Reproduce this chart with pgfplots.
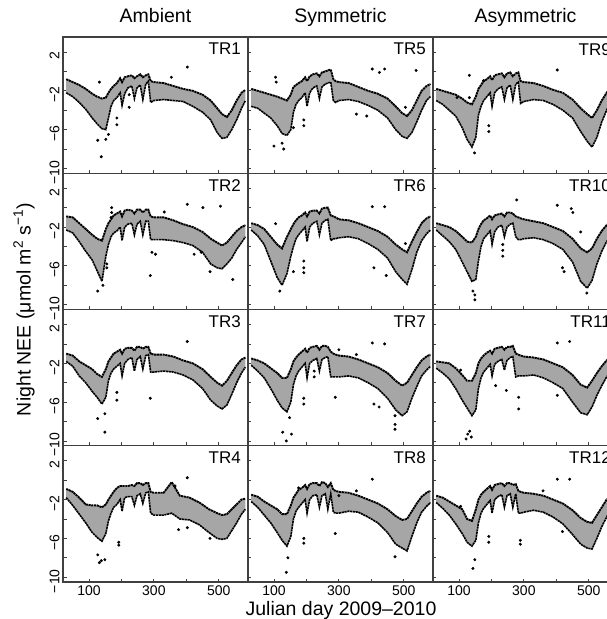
\documentclass[border=0pt]{standalone}
\usepackage{fontspec}
\setmainfont{Liberation Sans}
\usepackage{pgfplots}
\usepackage{pgfplotstable}
\pgfplotsset{compat=1.18}
\usepgfplotslibrary{groupplots,fillbetween}
\usetikzlibrary{calc}

% band of night NEE per chamber: day, upper edge, lower edge
\pgfplotstableread{
d hi lo
30 -0.8 -2.2
50 -1.1 -2.6
70 -1.4 -3.2
90 -1.8 -3.9
110 -2.3 -4.8
125 -2.6 -5.4
140 -2.8 -5.9
152 -2.7 -6.0
160 -2.2 -4.8
168 -1.8 -3.6
176 -1.5 -3.0
186 -1.2 -2.7
196 -0.7 -2.2
202 -1.1 -3.5
210 -0.6 -2.3
220 -0.5 -1.7
232 -0.4 -1.5
240 -0.7 -2.8
248 -0.5 -1.7
258 -0.3 -1.4
266 -0.6 -2.9
275 -0.4 -1.3
283 -0.3 -1.0
290 -1.0 -3.2
300 -1.1 -3.0
330 -1.2 -2.9
360 -1.5 -3.0
390 -1.8 -3.1
420 -2.0 -3.6
450 -2.4 -4.2
475 -3.0 -5.0
495 -3.8 -6.3
510 -4.4 -6.9
525 -4.7 -6.8
540 -4.0 -6.0
555 -3.0 -5.0
570 -2.2 -3.8
582 -1.9 -3.0
}\trA
\pgfplotstableread{
d hi lo
30 -0.9 -2.3
50 -1.0 -2.6
70 -1.6 -3.5
90 -2.2 -4.5
110 -2.8 -5.4
125 -3.2 -6.5
140 -3.4 -7.6
152 -2.2 -5.0
160 -1.6 -3.8
168 -1.2 -3.0
176 -0.8 -2.6
186 -0.6 -2.4
196 -0.4 -2.0
202 -0.9 -3.4
210 -0.3 -2.0
220 -0.2 -1.7
232 -0.3 -1.6
240 -0.6 -2.8
248 -0.2 -1.7
258 -0.2 -1.4
266 -0.5 -2.8
275 -0.2 -1.4
283 -0.2 -1.4
290 -0.9 -3.3
300 -1.0 -3.3
330 -1.0 -3.3
360 -1.3 -3.4
390 -1.7 -3.6
420 -2.0 -3.9
450 -2.5 -4.6
475 -3.2 -5.8
495 -3.6 -6.2
510 -3.9 -6.3
525 -3.6 -5.8
540 -3.0 -5.2
555 -2.4 -4.3
570 -2.0 -3.6
582 -1.8 -3.0
}\trB
\pgfplotstableread{
d hi lo
30 -1.0 -1.8
50 -1.2 -2.3
70 -1.8 -3.3
90 -2.2 -4.0
110 -2.6 -4.9
125 -3.1 -5.5
140 -3.4 -6.2
152 -2.6 -5.5
160 -1.8 -3.8
168 -1.4 -3.0
176 -1.0 -2.6
186 -0.8 -2.3
196 -0.6 -2.0
202 -1.0 -3.3
210 -0.5 -2.0
220 -0.4 -1.6
232 -0.4 -1.4
240 -0.7 -2.8
248 -0.3 -1.6
258 -0.3 -1.3
266 -0.5 -2.6
275 -0.3 -1.2
283 -0.3 -1.1
290 -1.0 -2.9
300 -1.1 -2.9
330 -1.1 -2.8
360 -1.3 -2.9
390 -1.7 -3.2
420 -2.0 -3.7
450 -2.6 -4.6
475 -3.4 -5.8
495 -4.0 -6.4
510 -4.3 -6.7
525 -3.8 -6.3
540 -3.0 -5.2
555 -2.2 -4.0
570 -1.6 -3.0
582 -1.4 -2.4
}\trC
\pgfplotstableread{
d hi lo
30 -0.9 -1.8
50 -1.2 -2.6
70 -1.8 -3.5
90 -2.5 -4.4
110 -2.6 -5.4
125 -2.6 -5.9
140 -2.8 -6.3
152 -2.5 -5.5
160 -2.0 -4.2
168 -1.6 -3.4
176 -1.2 -2.8
186 -0.8 -2.5
196 -0.6 -2.0
202 -0.6 -3.2
210 -0.6 -1.8
220 -0.6 -1.7
232 -0.5 -1.7
240 -0.6 -2.6
248 -0.3 -1.6
258 -0.3 -1.4
266 -0.5 -2.4
275 -0.3 -1.3
283 -0.3 -1.2
290 -1.2 -3.4
300 -1.3 -3.6
330 -1.3 -3.6
355 -0.2 -3.4
380 -1.6 -4.0
410 -1.8 -4.1
440 -2.3 -4.6
470 -3.0 -5.4
495 -3.4 -6.0
510 -3.6 -6.1
525 -3.5 -6.0
540 -3.0 -5.2
555 -2.5 -4.4
570 -2.0 -3.5
582 -1.9 -3.0
}\trD
\pgfplotstableread{
d hi lo
30 -1.8 -3.6
50 -2.0 -3.8
70 -2.2 -4.3
90 -2.4 -4.8
110 -2.6 -5.6
125 -2.8 -6.4
140 -3.0 -6.6
152 -2.4 -6.0
160 -1.6 -4.2
168 -1.4 -3.4
176 -1.2 -3.0
186 -1.0 -2.7
196 -0.6 -2.2
202 -1.0 -3.6
210 -0.5 -2.2
220 -0.3 -1.7
232 -0.2 -1.5
240 -0.5 -2.8
248 -0.1 -1.6
258 0.0 -1.3
266 0.1 -1.2
275 0.2 -1.1
283 -0.8 -3.0
290 -1.0 -3.2
300 -1.1 -3.0
330 -1.2 -2.9
360 -1.6 -3.1
390 -2.0 -3.5
420 -2.3 -4.0
450 -2.8 -4.8
475 -3.6 -6.0
495 -4.3 -6.7
510 -4.6 -6.9
525 -4.0 -6.3
540 -3.0 -5.2
555 -2.0 -4.0
570 -1.5 -3.0
582 -1.3 -2.6
}\trE
\pgfplotstableread{
d hi lo
30 -1.6 -2.3
50 -1.8 -2.9
70 -2.2 -3.8
90 -3.0 -5.5
110 -3.8 -7.2
125 -4.2 -8.0
140 -3.0 -6.8
152 -2.2 -5.0
160 -1.7 -4.0
168 -1.3 -3.2
176 -1.0 -2.8
186 -0.8 -2.4
196 -0.5 -2.0
202 -0.9 -3.5
210 -0.4 -2.0
220 -0.3 -1.6
232 -0.3 -1.4
240 -0.6 -2.8
248 -0.1 -1.6
258 0.0 -1.3
266 0.0 -1.2
275 -0.8 -3.4
283 -0.9 -3.2
290 -1.0 -3.2
300 -1.2 -3.1
330 -1.3 -3.0
360 -1.6 -3.2
390 -2.0 -3.7
420 -2.4 -4.3
450 -3.0 -5.2
475 -3.8 -6.6
495 -4.3 -7.4
510 -4.6 -7.9
525 -3.5 -6.4
540 -2.5 -4.6
555 -1.6 -3.4
570 -1.1 -2.7
582 -0.9 -2.3
}\trF
\pgfplotstableread{
d hi lo
30 -1.5 -2.2
50 -1.7 -2.8
70 -2.0 -3.5
90 -2.5 -4.6
110 -3.0 -5.8
125 -3.5 -6.6
140 -3.5 -7.0
152 -2.6 -6.0
160 -1.8 -4.2
168 -1.4 -3.3
176 -1.1 -2.8
186 -0.8 -2.4
196 -0.5 -2.0
202 -0.9 -3.5
210 -0.4 -2.0
220 -0.3 -1.7
232 -0.2 -1.5
240 -0.6 -2.8
248 -0.2 -1.6
258 -0.2 -1.4
266 -0.3 -1.3
275 -0.8 -3.4
283 -1.0 -3.4
290 -1.1 -3.4
300 -1.2 -3.4
330 -1.3 -3.3
360 -1.6 -3.5
390 -2.0 -4.0
420 -2.4 -4.6
450 -3.0 -5.6
475 -3.8 -6.8
495 -4.3 -7.4
510 -4.0 -7.0
525 -3.2 -5.6
540 -2.4 -4.4
555 -1.7 -3.3
570 -1.3 -2.7
582 -1.1 -2.3
}\trG
\pgfplotstableread{
d hi lo
30 -1.5 -2.2
50 -1.7 -2.8
70 -2.2 -3.6
90 -2.6 -4.4
110 -3.0 -5.4
125 -3.5 -6.2
140 -3.5 -6.8
152 -2.6 -5.8
160 -1.8 -4.0
168 -1.4 -3.2
176 -1.0 -2.8
186 -0.8 -2.4
196 -0.5 -2.0
202 -0.9 -3.4
210 -0.4 -2.0
220 -0.3 -1.6
232 -0.3 -1.5
240 -0.6 -2.8
248 -0.2 -1.6
258 -0.3 -1.4
266 -0.7 -3.0
275 -0.3 -1.4
283 -1.0 -3.3
290 -1.1 -3.4
300 -1.2 -3.4
330 -1.3 -3.2
360 -1.6 -3.3
390 -2.0 -3.8
420 -2.4 -4.4
450 -3.0 -5.4
475 -3.7 -6.6
495 -4.1 -7.0
510 -4.0 -7.3
525 -3.2 -5.8
540 -2.4 -4.4
555 -1.7 -3.3
570 -1.3 -2.7
582 -1.1 -2.3
}\trH
\pgfplotstableread{
d hi lo
30 -1.8 -3.0
50 -2.0 -3.4
70 -2.2 -4.0
90 -2.4 -4.6
110 -2.8 -5.8
125 -3.2 -7.0
140 -3.4 -7.8
152 -2.6 -6.8
160 -1.8 -4.5
168 -1.4 -3.6
176 -1.0 -3.0
186 -0.8 -2.6
196 -0.5 -2.2
202 -0.9 -3.6
210 -0.4 -2.2
220 -0.3 -1.8
232 -0.2 -1.6
240 -0.6 -2.9
248 -0.2 -1.7
258 -0.1 -1.4
266 -0.5 -2.9
275 -0.2 -1.3
283 -0.1 -1.1
290 -1.0 -3.3
300 -1.1 -3.1
330 -1.2 -2.9
360 -1.5 -3.0
390 -1.9 -3.4
420 -2.2 -4.0
450 -2.9 -4.8
475 -3.8 -6.2
495 -4.4 -7.2
510 -4.8 -7.8
525 -4.0 -6.8
540 -3.0 -5.2
555 -2.2 -4.0
570 -1.6 -3.0
582 -1.3 -2.6
}\trI
\pgfplotstableread{
d hi lo
30 -1.6 -2.3
50 -1.8 -2.9
70 -2.0 -3.5
90 -2.4 -4.3
110 -3.0 -5.6
125 -3.5 -6.6
140 -3.6 -7.6
152 -3.0 -7.4
160 -2.2 -5.5
168 -1.7 -4.0
176 -1.3 -3.2
186 -1.1 -2.8
196 -0.8 -2.4
202 -1.2 -3.8
210 -0.8 -2.5
220 -0.7 -2.0
232 -0.6 -1.8
240 -0.9 -3.0
248 -0.5 -2.0
258 -0.5 -1.7
266 -0.6 -1.6
275 -0.9 -3.0
283 -1.0 -3.3
290 -1.1 -3.3
300 -1.2 -3.2
330 -1.4 -3.1
360 -1.6 -3.3
390 -2.0 -3.7
420 -2.4 -4.3
450 -3.2 -5.6
475 -4.2 -7.6
495 -4.6 -8.3
510 -4.2 -7.5
525 -3.2 -5.8
540 -2.4 -4.5
555 -1.8 -3.5
570 -1.4 -2.9
582 -1.2 -2.5
}\trJ
\pgfplotstableread{
d hi lo
30 -1.8 -2.5
50 -1.9 -3.0
70 -2.0 -3.6
90 -2.5 -4.6
110 -3.2 -5.8
125 -3.8 -6.6
140 -3.8 -7.4
152 -3.0 -6.8
160 -2.0 -4.6
168 -1.5 -3.5
176 -1.2 -2.9
186 -0.9 -2.5
196 -0.7 -2.1
202 -1.0 -3.3
210 -0.5 -2.1
220 -0.4 -1.8
232 -0.3 -1.6
240 -0.6 -2.7
248 -0.3 -1.7
258 -0.3 -1.4
266 -0.2 -1.3
275 -1.0 -3.4
283 -1.1 -3.3
290 -1.2 -3.3
300 -1.3 -3.3
330 -1.4 -3.2
360 -1.6 -3.5
390 -2.0 -4.0
420 -2.4 -4.6
450 -3.2 -6.0
475 -4.2 -7.1
495 -4.5 -7.3
510 -3.8 -6.5
525 -3.0 -5.3
540 -2.3 -4.3
555 -1.7 -3.4
570 -1.3 -2.8
582 -1.1 -2.4
}\trK
\pgfplotstableread{
d hi lo
30 -1.6 -2.3
50 -1.8 -2.9
70 -2.2 -3.6
90 -2.6 -4.5
110 -3.0 -5.5
125 -4.0 -6.4
140 -4.2 -6.8
152 -3.0 -6.2
160 -2.0 -4.4
168 -1.5 -3.4
176 -1.2 -2.9
186 -0.9 -2.5
196 -0.6 -2.1
202 -1.0 -3.4
210 -0.5 -2.0
220 -0.4 -1.7
232 -0.3 -1.5
240 -0.6 -2.8
248 -0.3 -1.6
258 -0.3 -1.4
266 -0.5 -2.8
275 -0.4 -1.4
283 -1.1 -3.4
290 -1.2 -3.4
300 -1.3 -3.3
330 -1.4 -3.1
360 -1.6 -3.3
390 -2.0 -3.8
420 -2.4 -4.5
450 -3.1 -5.6
475 -3.9 -6.6
495 -4.3 -7.0
510 -4.4 -7.1
525 -3.6 -6.0
540 -2.8 -4.8
555 -2.0 -3.8
570 -1.5 -3.0
582 -1.3 -2.6
}\trL

\newcommand{\band}[1]{%
  \addplot[draw=none, name path=hi] table[x=d, y=hi] {#1};
  \addplot[draw=none, name path=lo] table[x=d, y=lo] {#1};
  \addplot[fill=black!35, draw=none] fill between[of=hi and lo];
  \addplot[black, line width=1.9pt, dash pattern=on 2.2pt off 0.6pt] table[x=d, y=hi] {#1};
  \addplot[black, line width=1.6pt, dash pattern=on 2.2pt off 0.6pt] table[x=d, y=lo] {#1};
}
\newcommand{\trlabel}[1]{%
  \node[anchor=north east, inner sep=0pt, font=\fontsize{17}{17}\selectfont]
    at ($(rel axis cs:1,1)+(-7pt,-6pt)$) {#1};
}
\pgfplotsset{outl/.style={only marks, mark=*, mark size=1.3pt, black}}

\begin{document}
\begin{tikzpicture}
\begin{groupplot}[
  group style={group size=3 by 4, horizontal sep=0pt, vertical sep=0pt,
    xticklabels at=edge bottom, yticklabels at=edge left},
  width=185pt, height=136.25pt, scale only axis,
  xmin=20, xmax=590, ymin=-10.5, ymax=3.55,
  xtick={100,200,300,400,500}, xticklabels={100,,300,,500},
  ytick={-10,-8,-6,-4,-2,0,2}, yticklabels={−10,,−6,,−2,,2},
  xtick pos=left, ytick pos=left, tick align=inside,
  major tick length=3.5pt,
  axis line style={black!75, line width=1.1pt},
  every tick/.style={black!75, line width=0.8pt},
  ticklabel style={font=\fontsize{14}{14}\selectfont},
  yticklabel style={rotate=90, anchor=south, xshift=-4pt},
  title style={font=\fontsize{19.5}{19.5}\selectfont, anchor=base, inner sep=0pt, yshift=9pt},
]
% row 1
\nextgroupplot[title=Ambient]
\coordinate (tl) at (rel axis cs:0,1);
\band{\trA}
\addplot[outl] coordinates {(132,-1.1) (127,-7.1) (152,-7.0) (138,-8.8) (186,-5.5) (186,-4.8) (224,-3.7) (224,-2.4) (354,-0.6) (403,0.45) (160,-6.5)};
\trlabel{TR1}

\nextgroupplot[title=Symmetric]
\band{\trE}
\addplot[outl] coordinates {(403,0.25) (425,-0.1) (441,0.25) (538,0.1) (105,-0.6) (107,-1.1) (100,-7.7) (125,-7.4) (130,-8.0) (192,-5.6) (192,-5.0) (354,-4.4) (386,-4.6) (505,-3.7) (160,-5.8)};
\trlabel{TR5}

\nextgroupplot[title=Asymmetric]
\band{\trI}
\addplot[outl] coordinates {(132,-0.4) (176,-0.95) (94,-2.7) (132,-2.7) (403,0.15) (192,-5.6) (192,-6.2) (148,-8.4)};
\trlabel{TR9}

% row 2
\nextgroupplot
\band{\trB}
\addplot[outl] coordinates {(170,0.0) (170,-0.5) (168,-1.0) (127,-8.6) (143,-8.0) (289,-7.0) (294,-4.6) (305,-4.8) (403,0.35) (451,0.0) (505,0.15) (424,-4.8) (446,-4.6) (473,-6.6) (543,-7.4) (332,-0.45) (155,-5.8) (155,-6.2)};
\trlabel{TR2}

\nextgroupplot
\band{\trF}
\addplot[outl] coordinates {(403,0.1) (441,0.1) (105,-1.65) (192,-6.7) (192,-6.2) (192,-5.5) (408,-6.2) (446,-7.0) (505,-3.7) (118,-8.6) (160,-6.6)};
\trlabel{TR6}

\nextgroupplot
\band{\trJ}
\addplot[outl] coordinates {(149,-9.5) (149,-9.0) (143,-8.6) (278,0.8) (235,-3.8) (235,-4.4) (235,-5.0) (403,0.25) (446,-0.1) (451,-0.5) (475,-2.5) (419,-6.2) (424,-6.6) (494,-8.8)};
\trlabel{TR10}

% row 3
\nextgroupplot
\band{\trC}
\addplot[outl] coordinates {(127,-7.7) (149,-7.2) (149,-9.1) (289,-5.6) (403,0.25) (186,-5.8) (186,-5.0)};
\trlabel{TR3}

\nextgroupplot
\band{\trG}
\addplot[outl] coordinates {(127,-9.1) (138,-10.0) (154,-9.3) (192,-6.2) (192,-5.6) (224,-3.4) (224,-2.8) (300,-0.6) (354,-1.1) (403,0.1) (441,0.0) (289,-5.5) (408,-6.2) (424,-6.5) (473,-7.4) (473,-8.3) (473,-8.8) (148,-7.6)};
\trlabel{TR7}

\nextgroupplot
\band{\trK}
\addplot[outl] coordinates {(127,-9.3) (138,-9.6) (122,-9.8) (133,-9.0) (105,-2.7) (213,-4.3) (246,-4.8) (284,-5.5) (284,-6.7) (403,0.1) (441,0.25) (403,-5.3)};
\trlabel{TR11}

% row 4
\nextgroupplot
\coordinate (bl) at (rel axis cs:0,0);
\band{\trD}
\addplot[outl] coordinates {(127,-7.7) (138,-8.3) (132,-8.5) (149,-8.2) (192,-6.7) (192,-6.4) (376,-5.1) (403,-4.9) (403,0.25) (473,-6.0) (365,-0.6)};
\trlabel{TR4}

\nextgroupplot
\band{\trH}
\addplot[outl] coordinates {(138,-9.5) (143,-8.0) (176,-0.8) (192,-6.5) (192,-6.0) (289,-5.5) (403,0.1) (473,-7.9) (354,-1.1) (300,-1.6)};
\trlabel{TR8}

\nextgroupplot
\band{\trL}
\addplot[outl] coordinates {(149,-8.2) (143,-9.1) (105,-2.7) (192,-5.8) (192,-6.4) (289,-6.2) (289,-6.6) (359,-1.1) (403,0.1) (441,0.1) (419,-5.3)};
\trlabel{TR12}
\end{groupplot}

\node[rotate=90, font=\fontsize{19.5}{19.5}\selectfont]
  at ($($(tl)!0.5!(bl)$)+(-39pt,0)$) {Night NEE (μmol m\textsuperscript{2} s\textsuperscript{−1})};
\node[anchor=base, font=\fontsize{19.5}{19.5}\selectfont]
  at ($(bl)+(278pt,-33pt)$) {Julian day 2009–2010};

\pgfresetboundingbox
\useasboundingbox ($(tl)+(-63pt,37pt)$) rectangle ($(tl)+(544pt,-582pt)$);
\end{tikzpicture}
\end{document}
